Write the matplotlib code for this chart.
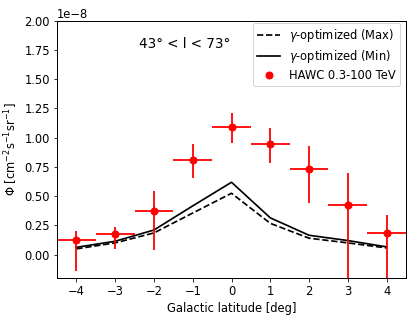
import numpy as np
import matplotlib
matplotlib.use("Agg")
import matplotlib.pyplot as plt

# galactic latitude bins
lat = np.array([-4, -3, -2, -1, 0, 1, 2, 3, 4])

# HAWC 0.3-100 TeV flux (units of 1e-8)
hawc = np.array([0.125, 0.177, 0.376, 0.812, 1.09, 0.946, 0.73, 0.425, 0.185])
hawc_up = np.array([0.2, 0.24, 0.54, 0.946, 1.21, 1.083, 0.93, 0.70, 0.34])
hawc_lo = np.array([-0.137, 0.05, 0.04, 0.655, 0.955, 0.78, 0.44, -0.25, -0.25])

# gamma-optimized model curves (units of 1e-8)
gam_max = np.array([0.049, 0.10, 0.185, 0.355, 0.524, 0.267, 0.14, 0.10, 0.057])
gam_min = np.array([0.062, 0.114, 0.21, 0.416, 0.618, 0.314, 0.165, 0.12, 0.066])

scale = 1e-8

plt.rcParams['font.size'] = 11.5
plt.rcParams['axes.linewidth'] = 1.0

fig = plt.figure(figsize=(413/72, 319/72), dpi=72)
ax = fig.add_axes([57/413, 41/319, 349/413, 257.5/319])

ax.plot(lat, gam_max*scale, 'k--', lw=1.7, label=r'$\gamma$-optimized (Max)')
ax.plot(lat, gam_min*scale, 'k-', lw=1.7, label=r'$\gamma$-optimized (Min)')

yerr = np.array([hawc - hawc_lo, hawc_up - hawc])*scale
ax.errorbar(lat, hawc*scale, xerr=0.5, yerr=yerr, fmt='none', ecolor='red', elinewidth=1.8)
ax.plot(lat, hawc*scale, 'o', color='red', ms=7, label='HAWC 0.3-100 TeV')

ax.text(0.365, 0.91, r'43° < l < 73°', transform=ax.transAxes, ha='center', va='center', fontsize=13.5)

ax.set_xlim(-4.5, 4.5)
ax.set_ylim(-0.2e-8, 2.0e-8)
ax.set_xticks(lat)
ax.set_xlabel('Galactic latitude [deg]')
ax.set_ylabel(r'$\Phi$ [cm$^{-2}$s$^{-1}$sr$^{-1}$]')
ax.legend(loc='upper right', bbox_to_anchor=(0.983, 0.99), borderaxespad=0,
          labelspacing=0.33, borderpad=0.35)

fig.savefig('out.png', dpi=72)
